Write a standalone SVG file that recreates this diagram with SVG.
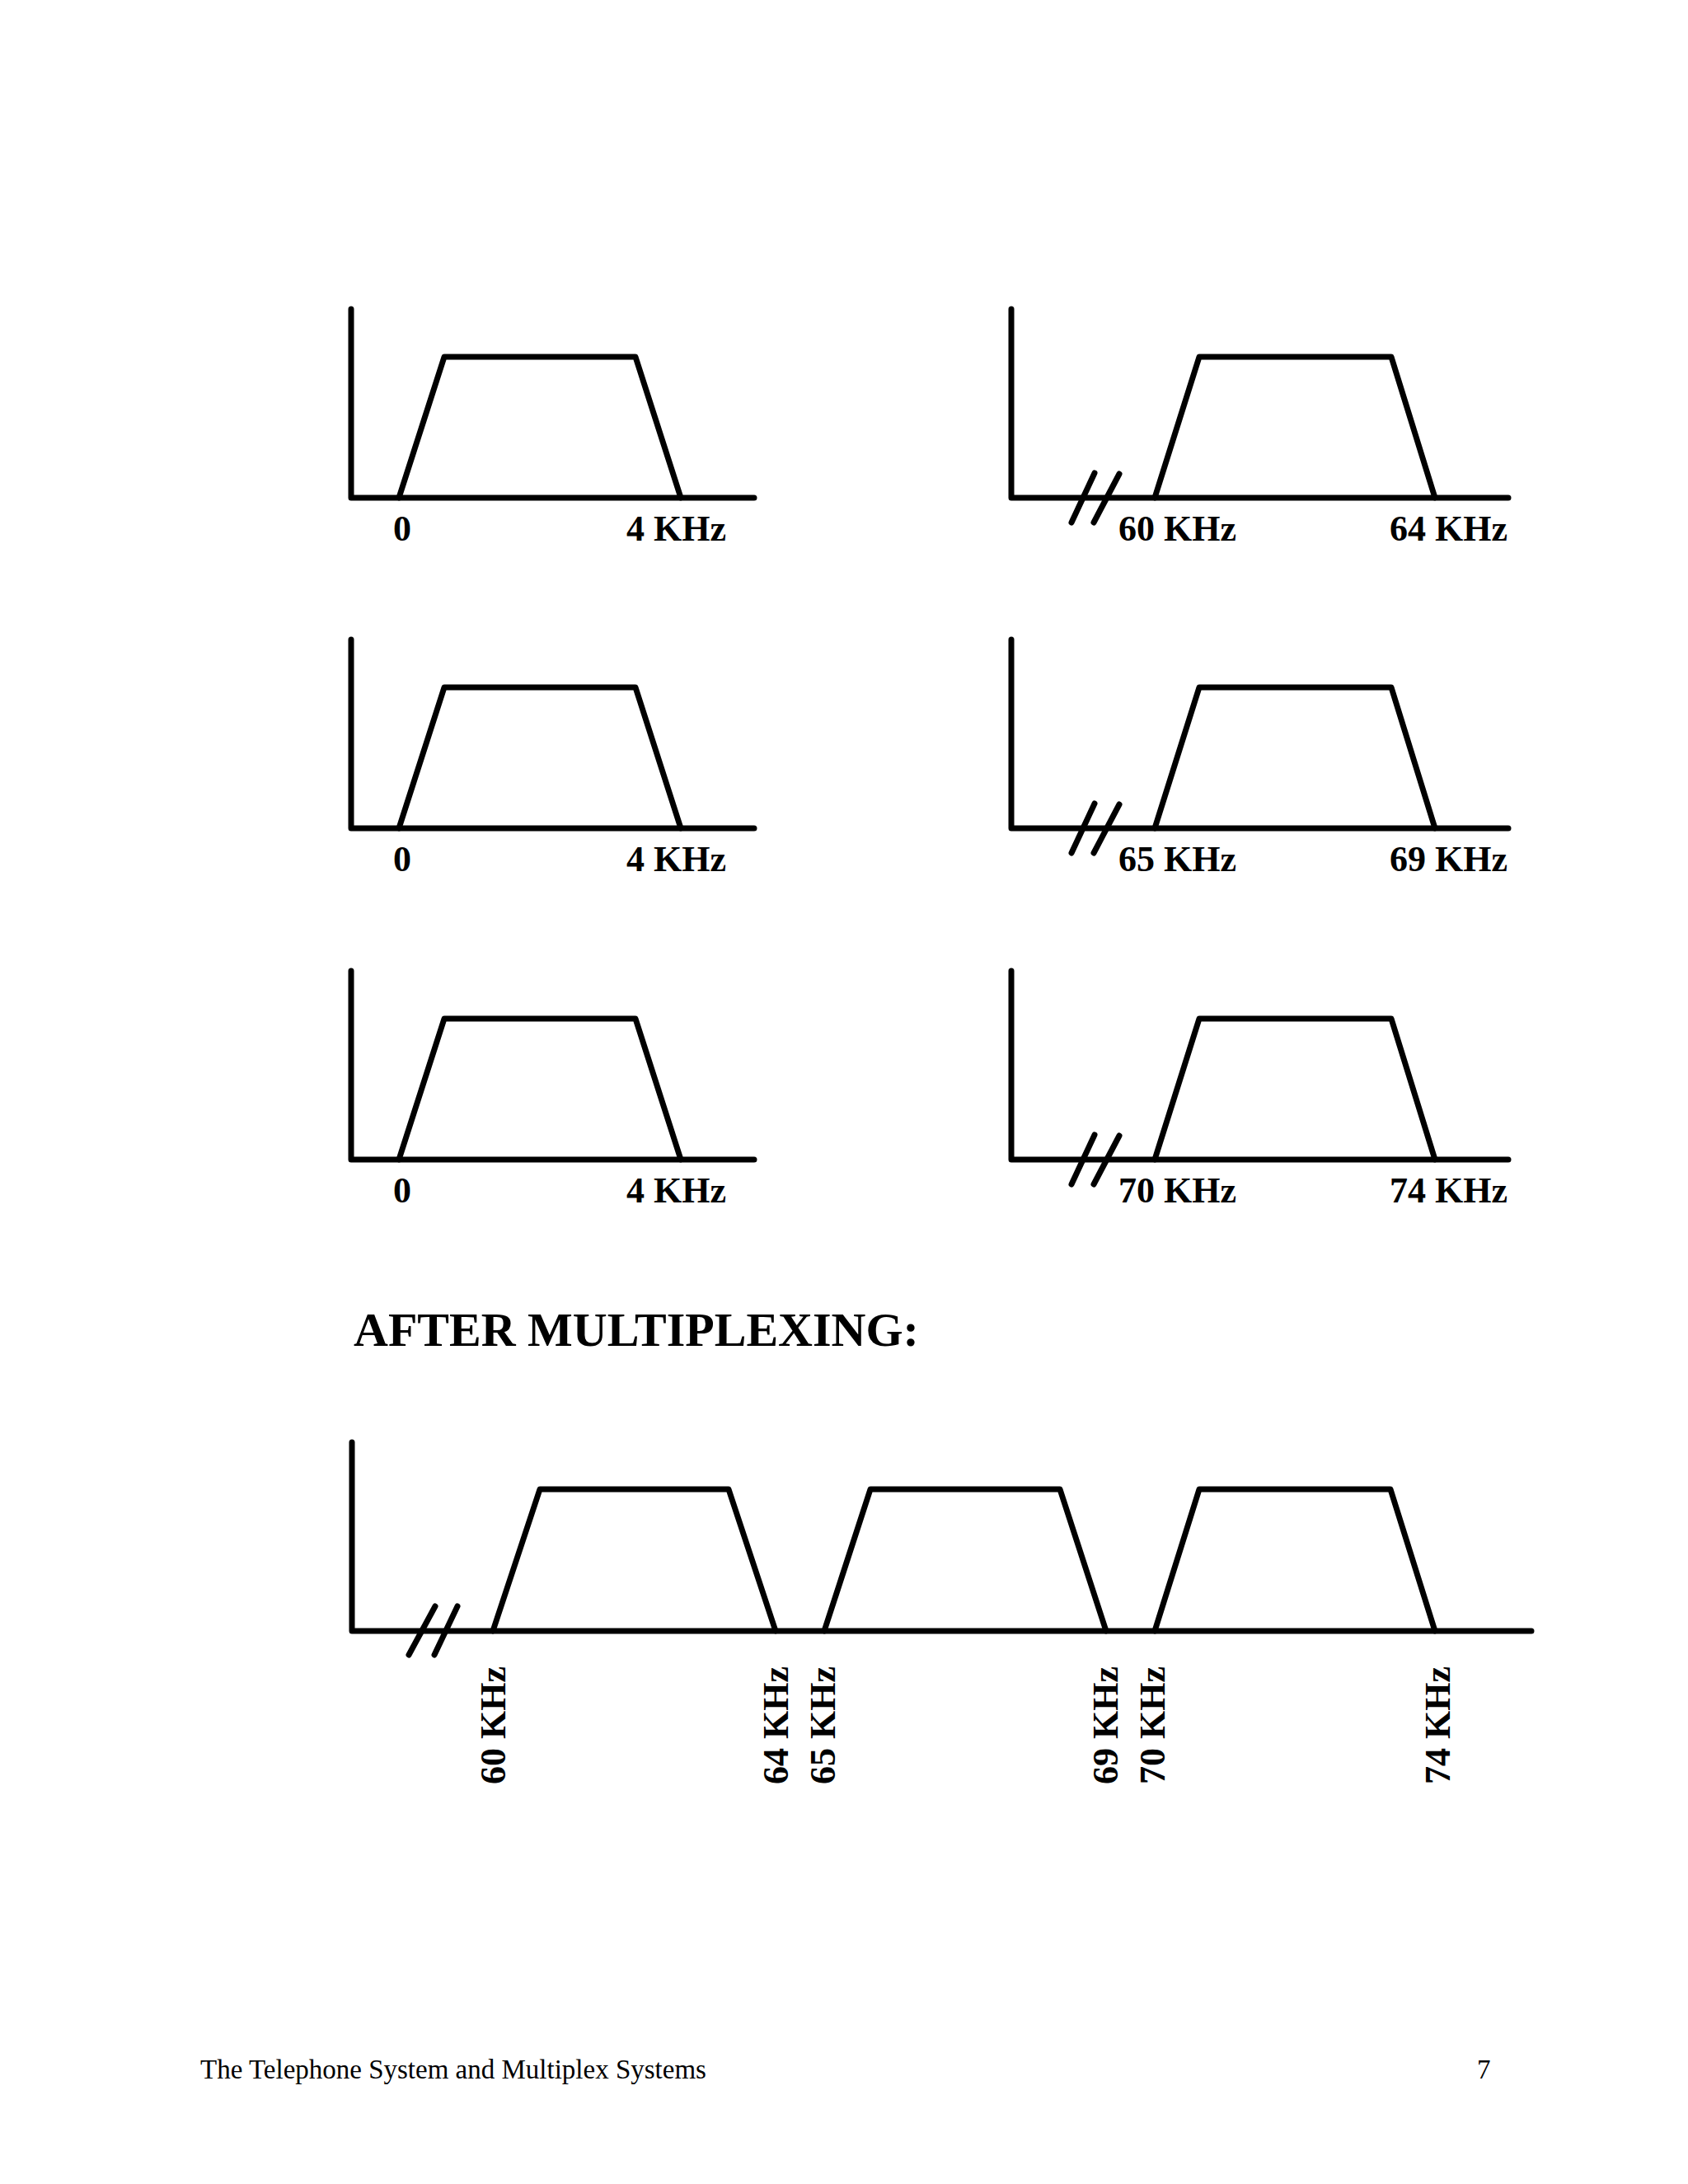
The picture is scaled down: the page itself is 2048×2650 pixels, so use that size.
<svg xmlns="http://www.w3.org/2000/svg" width="2048" height="2650" viewBox="0 0 2048 2650">
<style>
.ln{fill:none;stroke:#000;stroke-width:7;stroke-linecap:round;stroke-linejoin:round}
.lb{font-family:"Liberation Serif","Times New Roman",serif;font-weight:bold;font-size:44px;fill:#000}
.tt{font-family:"Liberation Serif","Times New Roman",serif;font-weight:bold;font-size:58px;fill:#000}
.ft{font-family:"Liberation Serif","Times New Roman",serif;font-size:33px;fill:#000}
</style>
<rect width="2048" height="2650" fill="#fff"/>
<defs>
<g id="leftChart">
<path class="ln" d="M426,375 V604 H915"/>
<path class="ln" d="M484,604 L539,433 H771 L826,604"/>
<text class="lb" x="488" y="656" text-anchor="middle">0</text>
</g>
<g id="rightChart">
<path class="ln" d="M1227,375 V604 H1830"/>
<path class="ln" d="M1300,634 L1328,574 M1327,634 L1358,575"/>
<path class="ln" d="M1401,604 L1455,433 H1688 L1741,604"/>
</g>
</defs>
<g id="chart-row1-left">
<use href="#leftChart"/>
<text class="lb" x="760" y="656">4 KHz</text>
</g>
<g id="chart-row1-right">
<use href="#rightChart"/>
<text class="lb" x="1357" y="656">60 KHz</text>
<text class="lb" x="1686" y="656">64 KHz</text>
</g>
<g id="chart-row2-left" transform="translate(0,401)">
<use href="#leftChart"/>
<text class="lb" x="760" y="656">4 KHz</text>
</g>
<g id="chart-row2-right" transform="translate(0,401)">
<use href="#rightChart"/>
<text class="lb" x="1357" y="656">65 KHz</text>
<text class="lb" x="1686" y="656">69 KHz</text>
</g>
<g id="chart-row3-left" transform="translate(0,803)">
<use href="#leftChart"/>
<text class="lb" x="760" y="656">4 KHz</text>
</g>
<g id="chart-row3-right" transform="translate(0,803)">
<use href="#rightChart"/>
<text class="lb" x="1357" y="656">70 KHz</text>
<text class="lb" x="1686" y="656">74 KHz</text>
</g>
<g id="title">
<text class="tt" x="429" y="1633">AFTER MULTIPLEXING:</text>
</g>
<g id="chart-multiplexed">
<path class="ln" d="M427,1750 V1979 H1858"/>
<path class="ln" d="M496,2008 L528,1949 M527,2008 L555,1949"/>
<path class="ln" d="M598,1979 L655,1807 H884 L941,1979"/>
<path class="ln" d="M1000,1979 L1056,1807 H1286 L1342,1979"/>
<path class="ln" d="M1401,1979 L1455,1807 H1687 L1741,1979"/>
<text class="lb" transform="translate(613,2165) rotate(-90)">60 KHz</text>
<text class="lb" transform="translate(956,2165) rotate(-90)">64 KHz</text>
<text class="lb" transform="translate(1013,2165) rotate(-90)">65 KHz</text>
<text class="lb" transform="translate(1356,2165) rotate(-90)">69 KHz</text>
<text class="lb" transform="translate(1413,2165) rotate(-90)">70 KHz</text>
<text class="lb" transform="translate(1759,2165) rotate(-90)">74 KHz</text>
</g>
<g id="footer">
<text class="ft" x="243" y="2522">The Telephone System and Multiplex Systems</text>
<text class="ft" x="1792" y="2522">7</text>
</g>
</svg>
